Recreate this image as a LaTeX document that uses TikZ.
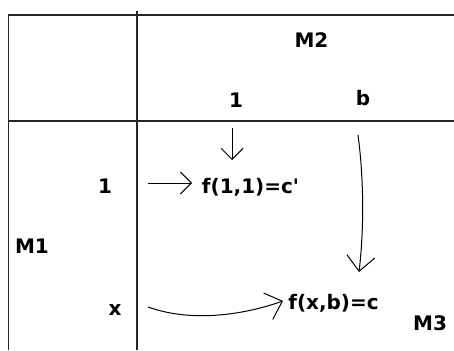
\documentclass[tikz,border=0pt]{standalone}
\usepackage{fontspec}
\setmainfont{DejaVu Sans}[Ligatures=TeXOff]
\usetikzlibrary{arrows.meta}
\begin{document}
\begin{tikzpicture}[x=1pt,y=-1pt,
  rule/.style={line width=1.5pt,black!85},
  lbl/.style={inner sep=0pt,anchor=base,font=\fontsize{20}{24}\selectfont\bfseries},
  harrow/.style={line width=1pt,-{Straight Barb[length=11pt,width=22pt,line width=1pt]}},
  bigarrow/.style={line width=1pt,-{Straight Barb[length=15pt,width=28pt,line width=1pt]}}]
\useasboundingbox (0,0) rectangle (454,350);
\fill[white] (0,0) rectangle (454,350);
% table rules
\coordinate (tl) at (8.5,15);
\coordinate (tr) at (454,15);
\coordinate (bl) at (8.5,350);
\coordinate (vt) at (137,11.5);
\coordinate (vb) at (137,350);
\coordinate (hl) at (8.5,121);
\coordinate (hr) at (454,121);
\draw[rule] (tr) -- (tl) -- (bl);
\draw[rule] (vt) -- (vb);
\draw[rule] (hl) -- (hr);
% labels
\node[lbl] (m2) at (311.5,48) {M2};
\node[lbl] (c1) at (236,107) {1};
\node[lbl] (cb) at (363,106) {b};
\node[lbl] (r1) at (105,193) {1};
\node[lbl] (m1) at (32,253) {M1};
\node[lbl] (rx) at (115,315) {x};
\node[lbl] (f11) at (250.5,193) {f(1,1)=c'};
\node[lbl] (fxb) at (333.5,309) {f(x,b)=c};
\node[lbl] (m3) at (430,330) {M3};
% arrows
\coordinate (a1s) at (232,128);
\coordinate (a1e) at (232,160);
\draw[harrow] (a1s) -- (a1e);
\coordinate (a2s) at (148,183);
\coordinate (a2e) at (192,183);
\draw[harrow] (a2s) -- (a2e);
\coordinate (a3s) at (358,135);
\coordinate (a3e) at (359,272);
\draw[bigarrow] (a3s) .. controls (364,180) and (364,230) .. (a3e);
\coordinate (a4s) at (148,307);
\coordinate (a4e) at (283,301);
\draw[bigarrow] (a4s) .. controls (190,322) and (240,316) .. (a4e);
\end{tikzpicture}
\end{document}
